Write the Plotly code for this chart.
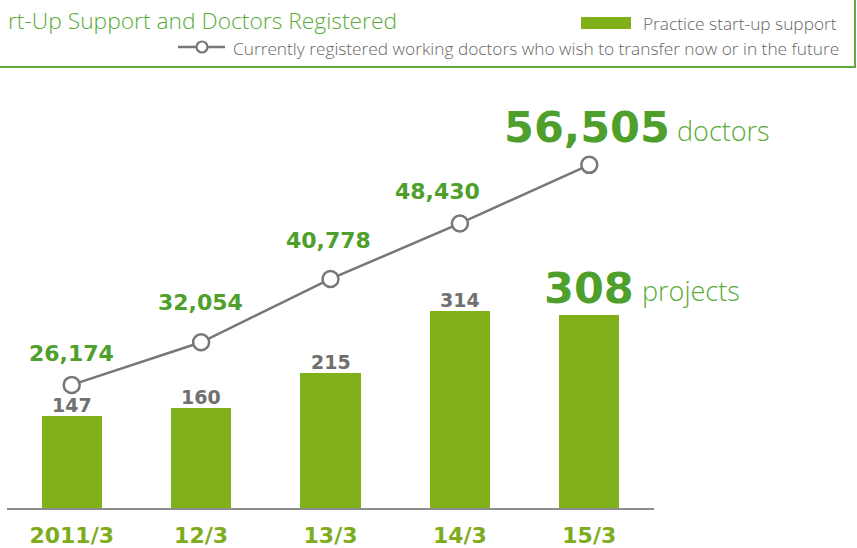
import plotly.graph_objects as go

categories = ["2011/3", "12/3", "13/3", "14/3", "15/3"]
projects = [147, 160, 215, 314, 308]
doctors = [26174, 32054, 40778, 48430, 56505]
doctor_labels = ["26,174", "32,054", "40,778", "48,430", "56,505"]
project_labels = ["147", "160", "215", "314", "308"]

W, H = 857, 548
L, R, T, B = 7, 203, 80, 40
PW, PH = W - L - R, H - T - B

def px(x):
    return (x - L) / PW

def py(y):
    return (H - B - y) / PH

BAR = "#80b01a"
GREEN = "#4e9f2c"
LGREEN = "#5aab3a"
GRAY_LINE = "#777777"
GRAY_TXT = "#707070"
BOLD = "DejaVu Sans"
LIGHT = "Open Sans"

fig = go.Figure()
fig.add_trace(go.Bar(x=categories, y=projects, marker=dict(color=BAR, line=dict(width=0)),
                     width=0.464, name="Practice start-up support", cliponaxis=False))
fig.add_trace(go.Scatter(x=categories, y=doctors, yaxis="y2", mode="lines+markers",
                         line=dict(color=GRAY_LINE, width=2.5),
                         marker=dict(symbol="circle", size=16, color="white",
                                     line=dict(color=GRAY_LINE, width=2.5)),
                         cliponaxis=False,
                         name="Currently registered working doctors who wish to transfer now or in the future"))

ann = []
# doctor labels
dshift = [31, 40, 38, 32, 38]
dxshift = [0, -1, -2, -22, -2]
for i, (c, v, t) in enumerate(zip(categories, doctors, doctor_labels)):
    big = i == len(categories) - 1
    ann.append(dict(x=c, y=v, xref="x", yref="y2", text=t, showarrow=False,
                    yanchor="middle", xanchor="center", yshift=dshift[i], xshift=dxshift[i],
                    font=dict(family=BOLD, size=43 if big else 22, color=GREEN, weight="bold")))
# project labels
for i, (c, v, t) in enumerate(zip(categories, projects, project_labels)):
    big = i == len(categories) - 1
    ann.append(dict(x=c, y=v, xref="x", yref="y", text=t, showarrow=False,
                    yanchor="middle", xanchor="center", yshift=27 if big else 11,
                    font=dict(family=BOLD, size=43 if big else 19,
                              color=GREEN if big else GRAY_TXT, weight="bold")))
ann.append(dict(x=categories[-1], y=doctors[-1], xref="x", yref="y2", text="doctors",
                showarrow=False, xanchor="left", yanchor="middle", xshift=86, yshift=34,
                font=dict(family=LIGHT, size=27, color=LGREEN, weight=300)))
ann.append(dict(x=categories[-1], y=projects[-1], xref="x", yref="y", text="projects",
                showarrow=False, xanchor="left", yanchor="middle", xshift=51, yshift=24,
                font=dict(family=LIGHT, size=27, color=LGREEN, weight=300)))
# title and legend texts
ann.append(dict(x=px(399), y=py(20), xref="paper", yref="paper",
                text="rt-Up Support and Doctors Registered", showarrow=False,
                xanchor="right", yanchor="middle",
                font=dict(family=LIGHT, size=22.8, color=LGREEN, weight=300)))
ann.append(dict(x=px(839), y=py(23), xref="paper", yref="paper",
                text="Practice start-up support", showarrow=False,
                xanchor="right", yanchor="middle",
                font=dict(family=LIGHT, size=17.3, color="#666666", weight=300)))
ann.append(dict(x=px(841), y=py(48), xref="paper", yref="paper",
                text="Currently registered working doctors who wish to transfer now or in the future",
                showarrow=False, xanchor="right", yanchor="middle",
                font=dict(family=LIGHT, size=17.3, color="#666666", weight=300)))

shapes = [
    dict(type="rect", xref="paper", yref="paper", x0=px(-20), x1=px(855), y0=py(-20), y1=py(67),
         line=dict(color="#5dab3d", width=2), fillcolor="rgba(0,0,0,0)", layer="below"),
    dict(type="rect", xref="paper", yref="paper", x0=px(581), x1=px(631), y0=py(17), y1=py(29),
         line=dict(width=0), fillcolor=BAR),
    dict(type="line", xref="paper", yref="paper", x0=px(178), x1=px(225), y0=py(47), y1=py(47),
         line=dict(color=GRAY_LINE, width=2.5)),
    dict(type="circle", xref="paper", yref="paper", x0=px(196.5), x1=px(207.5), y0=py(41.5), y1=py(52.5),
         line=dict(color=GRAY_LINE, width=2.2), fillcolor="white"),
]

fig.update_layout(
    width=W, height=H, autosize=False,
    margin=dict(l=L, r=R, t=T, b=B, pad=0),
    paper_bgcolor="white", plot_bgcolor="white",
    showlegend=False, bargap=0,
    xaxis=dict(range=[-0.5, 4.5], showgrid=False, zeroline=False, showline=True,
               linecolor="#8c8c8c", linewidth=2, ticks="outside", ticklen=7,
               tickcolor="rgba(0,0,0,0)", automargin=False,
               tickfont=dict(family=BOLD, size=22, color="#7dac1d", weight="bold")),
    yaxis=dict(range=[0, 682.2], visible=False, showgrid=False, zeroline=False, automargin=False),
    yaxis2=dict(range=[9210, 68197], overlaying="y", side="right", visible=False,
                showgrid=False, zeroline=False, automargin=False),
    annotations=ann, shapes=shapes,
)

fig.write_html("out.html", config={"displayModeBar": False},
               post_script="document.body.style.margin='0';document.body.style.overflow='hidden';")
